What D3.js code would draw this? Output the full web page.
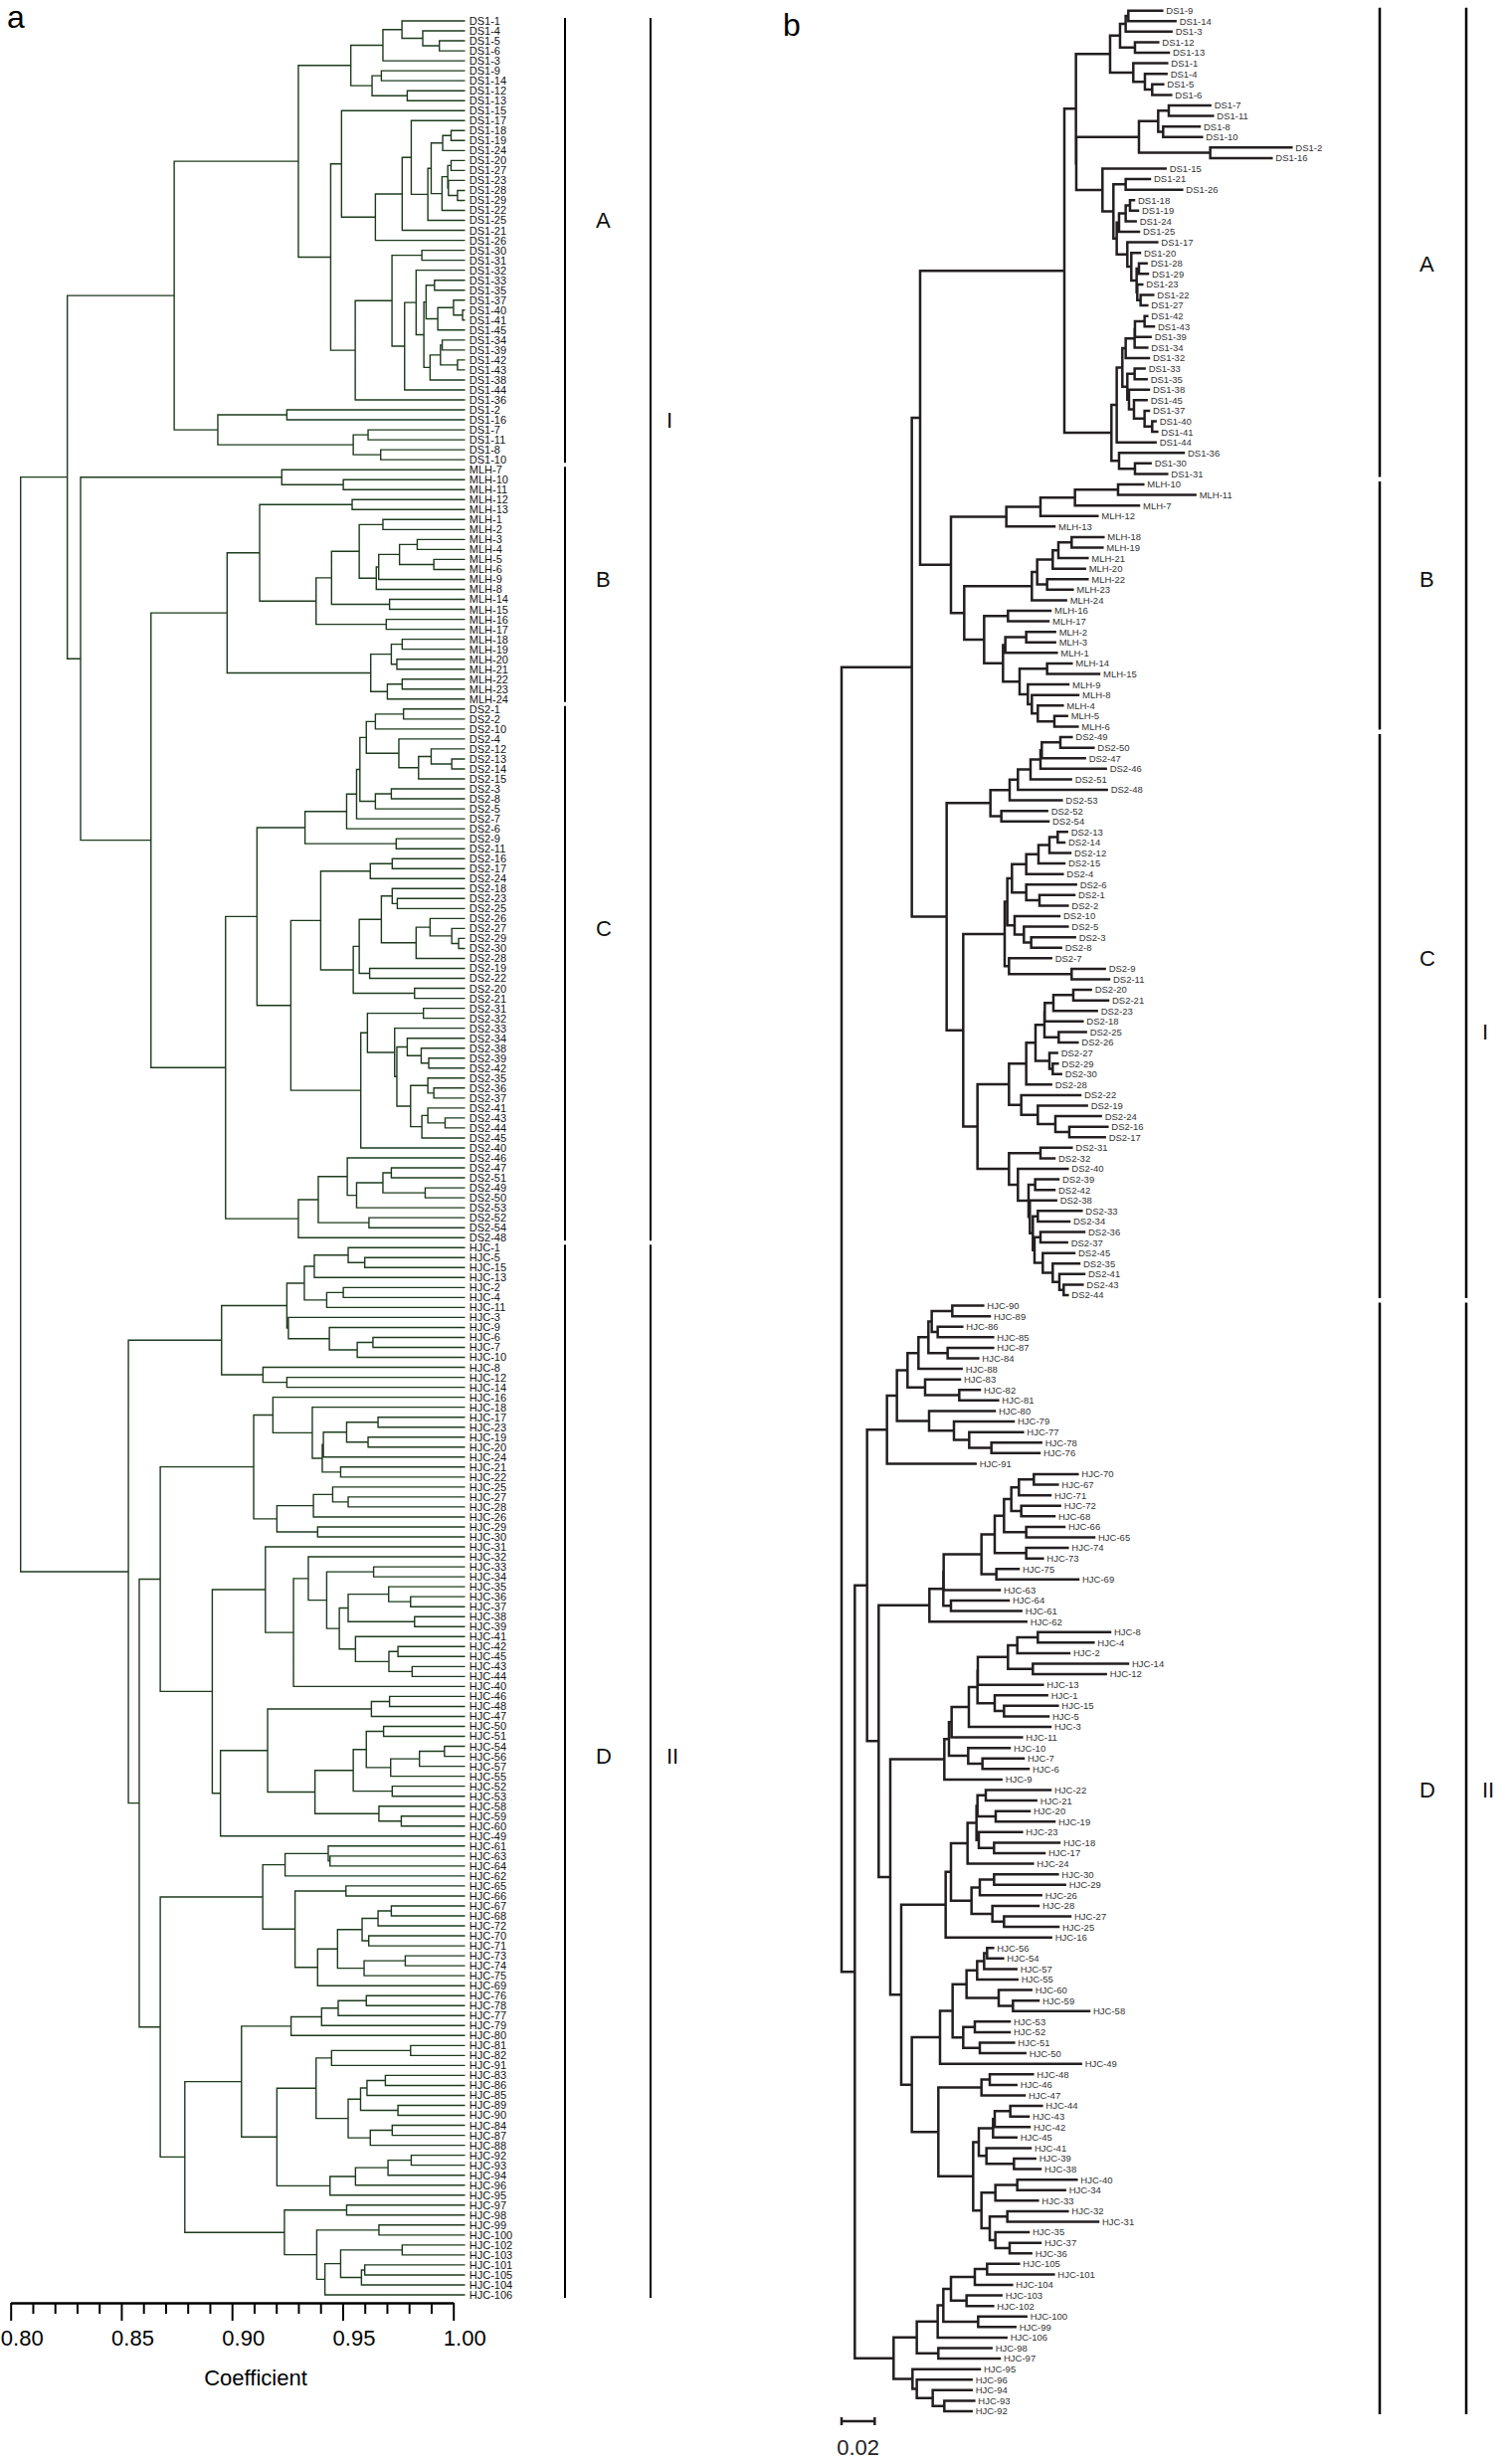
<!DOCTYPE html>
<html><head><meta charset="utf-8">
<script src="https://cdn.jsdelivr.net/npm/d3@7"></script>
<style>body{margin:0;background:#fff}svg{display:block}</style>
</head><body>
<svg id="chart" width="1520" height="2472"></svg>
<script>
// ---------------- DATA ----------------
// Panel a: UPGMA dendrogram. Value after ':' on an internal node = similarity coefficient of that join.
const leftClades = [
 ["root","(@a203,@a387):0.8045"],
 ["a203","(@a525,@a243):0.8256"],
 ["a525","(@a900,@a657):0.8739"],
 ["a900","(@a1058,@a997):0.9300"],
 ["a1058","(@a1155,@a1122):0.9537"],
 ["a1155","(@a1212,DS1-3):0.9682"],
 ["a1212","(DS1-1,@a1275):0.9768"],
 ["a1275","(DS1-4,(DS1-5,DS1-6):0.9937):0.9862"],
 ["a1122","((DS1-9,DS1-14):0.9675,(DS1-12,DS1-13):0.9792):0.9633"],
 ["a997","(@a1030,@a1090):0.9446"],
 ["a1030","(DS1-15,@a1132):0.9495"],
 ["a1132","(@a1213,DS1-26):0.9648"],
 ["a1213","(@a1240,DS1-21):0.9769"],
 ["a1240","(DS1-17,@a1290):0.9810"],
 ["a1290","(@a1300,DS1-25):0.9885"],
 ["a1300","(((DS1-18,DS1-19):0.9990,DS1-24):0.9952,@a1333):0.9900"],
 ["a1333","(((DS1-20,DS1-27):0.9990,(DS1-23,(DS1-28,DS1-29):1.0019):0.9978):0.9975,DS1-22):0.9949"],
 ["a1090","(@a1182,DS1-36):0.9557"],
 ["a1182","((DS1-30,DS1-31):0.9858,@a1220):0.9723"],
 ["a1220","((DS1-32,@a1278):0.9832,DS1-44):0.9780"],
 ["a1278","(@a1285,@a1297):0.9867"],
 ["a1285","((DS1-33,DS1-35):0.9915,((DS1-37,(DS1-40,DS1-41):1.0042):1.0001,DS1-45):0.9930):0.9877"],
 ["a1297","(((DS1-34,DS1-39):0.9950,(DS1-42,DS1-43):1.0019):0.9942,DS1-38):0.9895"],
 ["a657","((DS1-2,DS1-16):0.9248,((DS1-7,DS1-11):0.9615,(DS1-8,DS1-10):0.9672):0.9548):0.8936"],
 ["a243","(@a850,@a455):0.8316"],
 ["a850","(MLH-7,(MLH-10,MLH-11):0.9503):0.9225"],
 ["a455","(@a685,@a680):0.8634"],
 ["a685","(@a783,@a1118):0.8978"],
 ["a783","((MLH-12,MLH-13):0.9543,@a953):0.9125"],
 ["a953","(@a1000,(MLH-16,MLH-17):0.9697):0.9380"],
 ["a1000","(@a1083,(MLH-14,MLH-15):0.9712):0.9450"],
 ["a1083","((MLH-1,MLH-2):0.9682,((((MLH-3,MLH-4):0.9837,(MLH-5,MLH-6):0.9912):0.9757,MLH-9):0.9663,MLH-8):0.9652):0.9575"],
 ["a1118","(((MLH-18,MLH-19):0.9769,(MLH-20,MLH-21):0.9745):0.9720,((MLH-22,MLH-23):0.9769,MLH-24):0.9702):0.9627"],
 ["a680","(@a775,@a900b):0.8971"],
 ["a775","(@a920,@a877):0.9113"],
 ["a920","(@a1045,(DS2-9,DS2-11):0.9742):0.9330"],
 ["a1045","(((@a1105,@a1132b):0.9578,DS2-7):0.9563,DS2-6):0.9518"],
 ["a1105","(((DS2-1,DS2-2):0.9775,DS2-10):0.9648,(DS2-4,((DS2-12,(DS2-13,DS2-14):0.9993):0.9900,DS2-15):0.9843):0.9754):0.9607"],
 ["a1132b","((DS2-3,DS2-8):0.9720,DS2-5):0.9648"],
 ["a877","(@a967,@a1100):0.9266"],
 ["a967","(((DS2-16,DS2-17):0.9724,DS2-24):0.9625,@a1065):0.9401"],
 ["a1065","((@a1150,(DS2-19,DS2-22):0.9622):0.9575,(DS2-20,DS2-21):0.9825):0.9548"],
 ["a1150","((DS2-18,(DS2-23,DS2-25):0.9747):0.9724,((DS2-26,(DS2-27,(DS2-29,DS2-30):1.0024):0.9993):0.9895,DS2-28):0.9832):0.9675"],
 ["a1100","(@a1120,DS2-40):0.9582"],
 ["a1120","((DS2-31,DS2-32):0.9865,(DS2-33,@a1197):0.9735):0.9612"],
 ["a1197","((DS2-34,(DS2-38,(DS2-39,DS2-42):0.9889):0.9855):0.9792,((DS2-35,(DS2-36,DS2-37):0.9912):0.9885,((DS2-41,(DS2-43,DS2-44):0.9963):0.9885,DS2-45):0.9858):0.9807):0.9745"],
 ["a900b","(((DS2-46,(((DS2-47,DS2-51):0.9720,(DS2-49,DS2-50):0.9873):0.9682,DS2-53):0.9563):0.9521,(DS2-52,DS2-54):0.9619):0.9390,DS2-48):0.9300"],
 ["a387","(@a668,@a420):0.8532"],
 ["a668","(@a865,(HJC-8,(HJC-12,HJC-14):0.9248):0.9140):0.8953"],
 ["a865","(@a918,@a870):0.9248"],
 ["a918","(((HJC-1,(HJC-5,HJC-15):0.9600):0.9525,HJC-13):0.9372,((HJC-2,HJC-4):0.9503,HJC-11):0.9428):0.9327"],
 ["a870","(HJC-3,(HJC-9,((HJC-6,HJC-7):0.9637,HJC-10):0.9566):0.9440):0.9255"],
 ["a420","(@a483,@a483b):0.8581"],
 ["a483","(@a765,@a640):0.8676"],
 ["a765","(@a823,@a835):0.9098"],
 ["a823","(HJC-16,(HJC-18,((((HJC-17,HJC-23):0.9660,(HJC-19,HJC-20):0.9615):0.9518,HJC-24):0.9413,(HJC-21,HJC-22):0.9491):0.9408):0.9363):0.9185"],
 ["a835","(((HJC-25,(HJC-27,HJC-28):0.9525):0.9455,HJC-26):0.9368,(HJC-29,HJC-30):0.9387):0.9203"],
 ["a640","(@a800,@a665):0.8911"],
 ["a800","(HJC-31,((HJC-32,((HJC-33,HJC-34):0.9640,@a1023):0.9428):0.9345,HJC-40):0.9278):0.9151"],
 ["a1023","(((HJC-35,(HJC-36,HJC-37):0.9807):0.9708,(HJC-38,HJC-39):0.9825):0.9525,(HJC-41,((HJC-42,HJC-45):0.9750,(HJC-43,HJC-44):0.9814):0.9709):0.9558):0.9485"],
 ["a665","((((HJC-46,HJC-48):0.9712,HJC-47):0.9630,@a950):0.9161,HJC-49):0.8948"],
 ["a950","((@a1105h,(HJC-52,HJC-53):0.9724):0.9548,(HJC-58,(HJC-59,HJC-60):0.9765):0.9664):0.9375"],
 ["a1105h","((HJC-50,HJC-51):0.9685,(((HJC-54,HJC-56):0.9960,HJC-57):0.9847,HJC-55):0.9717):0.9607"],
 ["a483b","(@a792,@a557):0.8676"],
 ["a792","(((HJC-61,(HJC-63,HJC-64):0.9443):0.9435,HJC-62):0.9240,((HJC-65,HJC-66):0.9515,@a958):0.9285):0.9139"],
 ["a958","(((((HJC-67,HJC-68):0.9720,HJC-72):0.9660,(HJC-70,HJC-71):0.9618):0.9588,((HJC-73,HJC-74):0.9783,HJC-75):0.9597):0.9477,HJC-69):0.9387"],
 ["a557","(@a728,@a858):0.8787"],
 ["a728","(((((HJC-76,HJC-78):0.9607,HJC-77):0.9480,HJC-79):0.9405,HJC-80):0.9267,@a835b):0.9043"],
 ["a835b","((((HJC-81,HJC-82):0.9807,HJC-91):0.9450,@a1050):0.9380,((((HJC-92,HJC-93):0.9810,HJC-94):0.9705,HJC-96):0.9558,HJC-95):0.9443):0.9203"],
 ["a1050","((((HJC-83,HJC-86):0.9693,HJC-85):0.9610,(HJC-89,HJC-90):0.9750):0.9581,((HJC-84,HJC-87):0.9724,HJC-88):0.9625):0.9525"],
 ["a858","((HJC-97,HJC-98):0.9518,((HJC-99,HJC-100):0.9664,(((HJC-102,HJC-103):0.9769,((HJC-101,HJC-105):0.9600,HJC-104):0.9585):0.9491,HJC-106):0.9420):0.9383):0.9237"]
];
const leftLeafCoefficient = 1.005;   // where the terminal branches of panel a end
const leftMajorTicks = [0.80, 0.85, 0.90, 0.95, 1.00];
const leftMinorTicks = [0.81,0.82,0.83,0.84,0.86,0.87,0.88,0.89,0.91,0.92,0.93,0.94,0.96,0.97,0.98,0.99];
const leftAxisTitle = "Coefficient";

// Panel b: neighbour-joining tree. Value after ':' = distance of the node from the root.
const rightClades = [
 ["root","(((@bA,@bB):0.0474,@bC):0.0424,(@bD1,@bD2):0.008):0"],
 ["bA","(@b755,@b862):0.1344"],
 ["b755","(@b858,(@b945,@b835):0.1416):0.1414"],
 ["b858","((((DS1-9:0.1934,DS1-14:0.2014):0.173,DS1-3:0.199):0.1714,(DS1-12:0.191,DS1-13:0.1974):0.177):0.168,(DS1-1:0.1964,(DS1-4:0.196,(DS1-5:0.194,DS1-6:0.1988):0.1874):0.183):0.176):0.162"],
 ["b945","(((DS1-7:0.2224,DS1-11:0.224):0.1974,(DS1-8:0.216,DS1-10:0.2174):0.194):0.191,(DS1-2:0.2714,DS1-16:0.2594):0.2224):0.1794"],
 ["b835","(DS1-15:0.1954,((DS1-21:0.186,DS1-26:0.2054):0.1714,(@b885,@b910):0.166):0.164):0.1574"],
 ["b885","(((DS1-18:0.1764,DS1-19:0.1788):0.174,DS1-24:0.1774):0.1714,DS1-25:0.1794):0.1674"],
 ["b910","(DS1-17:0.1904,(DS1-20:0.18,((DS1-28:0.184,DS1-29:0.1848):0.1794,(DS1-23:0.1814,(DS1-22:0.188,DS1-27:0.1844):0.1804):0.1784):0.178):0.1748):0.1724"],
 ["b862","((@b895,DS1-44:0.1894):0.166,(DS1-36:0.2064,(DS1-30:0.1864,DS1-31:0.1964):0.177):0.1674):0.1628"],
 ["b895","(((((DS1-42:0.1844,DS1-43:0.1884):0.1828,DS1-39:0.1864):0.177,DS1-34:0.1844):0.1768,DS1-32:0.1854):0.1714,((DS1-33:0.1828,DS1-35:0.184):0.1768,(DS1-38:0.1854,(DS1-45:0.184,(DS1-37:0.1854,(DS1-40:0.1894,DS1-41:0.1904):0.1874):0.1828):0.1764):0.1734):0.1724):0.1694"],
 ["bB","(@bB1,@bB2):0.066"],
 ["bB1","((((MLH-10:0.182,MLH-11:0.2134):0.1668,MLH-7:0.1794):0.1408,MLH-12:0.1544):0.12,MLH-13:0.1284):0.0994"],
 ["bB2","((@bB3,MLH-24:0.1354):0.1148,@bB4):0.074"],
 ["bB3","((((MLH-18:0.158,MLH-19:0.1574):0.1388,MLH-21:0.1484):0.1308,MLH-20:0.1468):0.1274,(MLH-22:0.1484,MLH-23:0.1394):0.124):0.118"],
 ["bB4","((MLH-16:0.126,MLH-17:0.1248):0.1004,(((MLH-2:0.1288,MLH-3:0.1288):0.1114,MLH-1:0.1298):0.0988,((MLH-14:0.1388,MLH-15:0.1554):0.124,(MLH-9:0.1368,(MLH-8:0.1428,(MLH-4:0.1334,(MLH-5:0.136,MLH-6:0.1424):0.1284):0.1184):0.1148):0.1124):0.1074):0.0974):0.086"],
 ["bC","(@bC1,@bC2):0.0634"],
 ["bC1","(((((((DS2-49:0.1388,DS2-50:0.152):0.132,DS2-47:0.1468):0.1208,DS2-46:0.1594):0.12,DS2-51:0.1384):0.114,DS2-48:0.16):0.1064,DS2-53:0.1328):0.1014,(DS2-52:0.124,DS2-54:0.1248):0.0964):0.0898"],
 ["bC2","(@bC3,@bC4):0.0734"],
 ["bC3","((@bC3a,@bC3b):0.1,(DS2-7:0.1264,(DS2-9:0.1588,DS2-11:0.1614):0.1388):0.101):0.0984"],
 ["bC3a","(((((DS2-13:0.136,DS2-14:0.1344):0.1304,DS2-12:0.138):0.1254,DS2-15:0.1344):0.1188,DS2-4:0.1334):0.1114,(DS2-6:0.1414,(DS2-1:0.1404,DS2-2:0.1364):0.1194):0.1114):0.1028"],
 ["bC3b","(DS2-10:0.1314,(DS2-5:0.1364,(DS2-3:0.1408,DS2-8:0.1324):0.1144):0.11):0.1044"],
 ["bC4","(@bC5,@bC6):0.082"],
 ["bC5","((@bC5a,DS2-28:0.1264):0.1114,(DS2-22:0.144,(DS2-19:0.148,(DS2-24:0.1564,(DS2-16:0.1604,DS2-17:0.1588):0.1374):0.129):0.1184):0.1084):0.101"],
 ["bC5a","(((((DS2-20:0.1504,DS2-21:0.1608):0.1398,DS2-23:0.154):0.1278,DS2-18:0.1454):0.1226,(DS2-25:0.1474,DS2-26:0.1424):0.131):0.1224,(DS2-27:0.13,(DS2-29:0.1304,DS2-30:0.1324):0.1274):0.1254):0.117"],
 ["bC6","((DS2-31:0.1388,DS2-32:0.1284):0.12,(DS2-40:0.1364,@bC7):0.1064):0.101"],
 ["bC7","((DS2-39:0.1308,DS2-42:0.1284):0.1168,(DS2-38:0.1294,((DS2-33:0.1448,DS2-34:0.1374):0.1184,((DS2-36:0.1464,DS2-37:0.136):0.12,(DS2-45:0.1404,(DS2-35:0.1434,(DS2-41:0.1464,(DS2-43:0.1454,DS2-44:0.1364):0.134):0.1314):0.1274):0.1214):0.1164):0.1154):0.1136):0.1128"],
 ["bD1","(@bD1a,@bD1b):0.0154"],
 ["bD1a","((@bD1c,@bD1d):0.0334,HJC-91:0.0808):0.0274"],
 ["bD1c","(((((HJC-90:0.0854,HJC-89:0.0894):0.0668,(HJC-86:0.0728,HJC-85:0.0914):0.058):0.0544,(HJC-87:0.0914,HJC-84:0.0824):0.064):0.0524,HJC-88:0.0724):0.0464,(HJC-83:0.0714,(HJC-82:0.0834,HJC-81:0.0944):0.071):0.0504):0.0398"],
 ["bD1d","(HJC-80:0.0924,(HJC-79:0.1038,(HJC-77:0.1094,(HJC-78:0.1204,HJC-76:0.1194):0.0904):0.077):0.0678):0.0528"],
 ["bD1b","(@bD1e,@bD1f):0.0224"],
 ["bD1e","(((@bD1g,HJC-63:0.0954):0.0616,(HJC-64:0.1008,HJC-61:0.1084):0.066):0.0614,HJC-62:0.1114):0.053"],
 ["bD1g","((((((HJC-70:0.1424,HJC-67:0.1304):0.116,HJC-71:0.126):0.107,(HJC-72:0.1318,HJC-68:0.1284):0.1084):0.1024,(HJC-66:0.1344,HJC-65:0.1524):0.1114):0.098,(HJC-74:0.1364,HJC-73:0.1214):0.1114):0.0924,(HJC-75:0.1068,HJC-69:0.1428):0.0934):0.0844"],
 ["bD1f","(@bD1h,@bD1i):0.0294"],
 ["bD1h","(((@bD1j,HJC-11:0.1088):0.0664,(HJC-10:0.1014,(HJC-7:0.1098,HJC-6:0.1128):0.085):0.0764):0.0648,HJC-9:0.0964):0.062"],
 ["bD1j","((((((HJC-8:0.162,HJC-4:0.152):0.1184,HJC-2:0.1374):0.106,(HJC-14:0.1728,HJC-12:0.1594):0.1154):0.1004,HJC-13:0.1214):0.0822,(HJC-1:0.124,(HJC-15:0.1304,HJC-5:0.1248):0.098):0.0924):0.082,HJC-3:0.126):0.0768"],
 ["bD1i","(@bD1k,@bD1l):0.036"],
 ["bD1k","((((((HJC-22:0.126,HJC-21:0.1174):0.087,(HJC-20:0.1134,HJC-19:0.1284):0.093):0.082,(HJC-23:0.1088,(HJC-18:0.1314,HJC-17:0.1224):0.092):0.0828):0.0814,HJC-24:0.1154):0.076,@bD1m):0.066,HJC-16:0.1264):0.0628"],
 ["bD1m","(((HJC-30:0.1304,HJC-29:0.1348):0.092,HJC-26:0.1204):0.0834,(HJC-28:0.1188,(HJC-27:0.138,HJC-25:0.1308):0.098):0.091):0.0784"],
 ["bD1l","(@bD1n,@bD1o):0.0424"],
 ["bD1n","((((((HJC-56:0.0914,HJC-54:0.0974):0.0878,HJC-57:0.1054):0.086,HJC-55:0.106):0.0818,(HJC-60:0.1144,(HJC-59:0.1188,HJC-58:0.1494):0.1034):0.0948):0.0754,((HJC-53:0.1014,HJC-52:0.1014):0.0804,(HJC-51:0.104,HJC-50:0.1108):0.0834):0.0734):0.067,HJC-49:0.1444):0.0594"],
 ["bD1o","(((HJC-48:0.1154,HJC-46:0.1054):0.0894,HJC-47:0.1104):0.0844,(((((HJC-44:0.1208,HJC-43:0.1128):0.1018,HJC-42:0.1134):0.0924,HJC-45:0.1054):0.0914,(HJC-41:0.114,(HJC-39:0.1168,HJC-38:0.12):0.104):0.0874):0.0828,(((HJC-40:0.1418,HJC-34:0.1348):0.106,HJC-33:0.1184):0.0928,((HJC-32:0.1364,HJC-31:0.1548):0.1,(HJC-35:0.1128,(HJC-37:0.12,HJC-36:0.1144):0.1014):0.0928):0.0894):0.0844):0.0794):0.0584"],
 ["bD2","(((((((HJC-105:0.107,HJC-101:0.128):0.0878,HJC-104:0.1028):0.0804,(HJC-103:0.0964,HJC-102:0.0914):0.0754):0.066,(HJC-100:0.1114,HJC-99:0.1048):0.0824):0.0614,HJC-106:0.0994):0.058,(HJC-98:0.0904,HJC-97:0.0954):0.0584):0.0454,(HJC-95:0.0834,(HJC-96:0.0784,(HJC-94:0.0784,(HJC-93:0.08,HJC-92:0.0784):0.062):0.055):0.0454):0.0428):0.0314"]
];
const rightScaleBar = 0.02;

// cluster brackets: [label, first leaf, last leaf, leaf row where the label sits]
const leftClusters  = [["A","DS1-1","DS1-10","DS1-25"],["B","MLH-7","MLH-24","MLH-9"],["C","DS2-1","DS2-48","DS2-27"],["D","HJC-1","HJC-106","HJC-56"]];
const leftGroups    = [["I","DS1-1","DS2-48","DS1-16"],["II","HJC-1","HJC-106","HJC-56"]];
const rightClusters = [["A","DS1-9","DS1-31","DS1-28"],["B","MLH-10","MLH-6","MLH-22"],["C","DS2-49","DS2-44","DS2-7"],["D","HJC-90","HJC-92","HJC-22"]];
const rightGroups   = [["I","DS1-9","DS2-44","DS2-25"],["II","HJC-90","HJC-92","HJC-22"]];

// ---------------- HELPERS ----------------
function expand(defs, name) {
  const map = new Map(defs);
  const rec = s => s.replace(/@(\w+)/g, (_, k) => { if (!map.has(k)) throw new Error("missing clade " + k); return rec(map.get(k)); });
  return rec(map.get(name));
}
function parseNewick(s) {
  let i = 0;
  function node() {
    const n = {};
    if (s[i] === "(") {
      i++; n.children = [node()];
      while (s[i] === ",") { i++; n.children.push(node()); }
      if (s[i] !== ")") throw new Error("newick error at " + i + " " + s.slice(i - 20, i + 20));
      i++;
    }
    let name = ""; while (i < s.length && !",():".includes(s[i])) name += s[i++];
    n.name = name.trim();
    if (s[i] === ":") { i++; let v = ""; while (i < s.length && !",()".includes(s[i])) v += s[i++]; n.value = +v; }
    return n;
  }
  const r = node();
  if (i !== s.length) throw new Error("trailing text at " + i);
  return r;
}
function buildTree(defs, yRange, expected) {
  const root = d3.hierarchy(parseNewick(expand(defs, "root")));
  const leaves = root.leaves();
  if (leaves.length !== expected) throw new Error("leaf count " + leaves.length);
  const y = d3.scalePoint().domain(leaves.map(d => d.data.name)).range(yRange);
  root.eachAfter(n => {
    n.py = n.children ? (n.children[0].py + n.children[n.children.length - 1].py) / 2 : y(n.data.name);
  });
  return { root, y };
}

const svg = d3.select("#chart");
const FONT = "'Liberation Sans', Arial, Helvetica, sans-serif";

// ---------------- PANEL a ----------------
const xL = d3.scaleLinear().domain([0.80, 1.00]).range([10.7, 455.7]);
const treeL = buildTree(leftClades, [21, 2307], 229);
const gL = svg.append("g");
const segL = [];
treeL.root.each(n => {
  if (!n.children) return;
  const x0 = xL(n.data.value);
  segL.push(`M${x0},${n.children[0].py}V${n.children[n.children.length - 1].py}`);
  n.children.forEach(c => {
    const x1 = xL(c.children ? c.data.value : leftLeafCoefficient);
    segL.push(`M${x0},${c.py}H${x1}`);
  });
});
gL.append("path").attr("d", segL.join("")).attr("fill", "none")
  .attr("stroke", "#1d3a1d").attr("stroke-width", 1.4).attr("stroke-linecap", "square");
gL.selectAll("text.leaf").data(treeL.root.leaves()).join("text")
  .attr("x", xL(leftLeafCoefficient) + 5).attr("y", d => d.py).attr("dy", "0.36em")
  .attr("font-family", FONT).attr("font-size", 11).attr("fill", "#111").text(d => d.data.name);

// axis
const axisY = 2315;
const gAx = svg.append("g").attr("transform", `translate(0,${axisY})`);
gAx.call(d3.axisBottom(xL).tickValues(leftMinorTicks).tickSize(11).tickSizeOuter(0).tickFormat(""));
const gAx2 = svg.append("g").attr("transform", `translate(0,${axisY})`);
gAx2.call(d3.axisBottom(xL).tickValues(leftMajorTicks).tickSize(18).tickSizeOuter(0).tickPadding(9).tickFormat(d3.format(".2f")));
[gAx, gAx2].forEach(g => {
  g.selectAll("path,line").attr("stroke", "#000").attr("stroke-width", 2);
  g.selectAll("text").attr("font-family", FONT).attr("font-size", 22).attr("fill", "#000").attr("dx", 11);
});
svg.append("text").attr("x", 257).attr("y", 2398).attr("text-anchor", "middle")
  .attr("font-family", FONT).attr("font-size", 22).text(leftAxisTitle);

// ---------------- PANEL b ----------------
const xR = d3.scaleLinear().domain([0, rightScaleBar]).range([846, 846 + 33.33]);
const treeR = buildTree(rightClades, [10.7, 2424], 229);
const gR = svg.append("g");
const segR = [];
treeR.root.each(n => {
  if (!n.children) return;
  const x0 = xR(n.data.value);
  segR.push(`M${x0},${n.children[0].py}V${n.children[n.children.length - 1].py}`);
  n.children.forEach(c => segR.push(`M${x0},${c.py}H${xR(c.data.value)}`));
});
gR.append("path").attr("d", segR.join("")).attr("fill", "none")
  .attr("stroke", "#231f20").attr("stroke-width", 2.5).attr("stroke-linecap", "square");
gR.selectAll("text.leaf").data(treeR.root.leaves()).join("text")
  .attr("x", d => xR(d.data.value) + 4).attr("y", d => d.py).attr("dy", "0.36em")
  .attr("font-family", FONT).attr("font-size", 9.5).attr("fill", "#333").text(d => d.data.name);

// scale bar
const sbY = 2434;
svg.append("path").attr("d", `M${xR(0)},${sbY}H${xR(rightScaleBar)}M${xR(0)},${sbY - 4}V${sbY + 4}M${xR(rightScaleBar)},${sbY - 4}V${sbY + 4}`)
  .attr("stroke", "#231f20").attr("stroke-width", 2.5).attr("fill", "none");
svg.append("text").attr("x", (xR(0) + xR(rightScaleBar)) / 2).attr("y", 2468).attr("text-anchor", "middle")
  .attr("font-family", FONT).attr("font-size", 22).attr("fill", "#222").text(String(rightScaleBar));

// ---------------- BRACKETS ----------------
function brackets(list, yScale, x, labelDx, sw) {
  list.forEach(([lab, a, b, row]) => {
    svg.append("line").attr("x1", x).attr("x2", x).attr("y1", yScale(a) - 3).attr("y2", yScale(b) + 3)
      .attr("stroke", "#000").attr("stroke-width", sw);
    svg.append("text").attr("x", x + labelDx).attr("y", yScale(row)).attr("dy", "0.36em")
      .attr("font-family", FONT).attr("font-size", 22).attr("fill", "#111").text(lab);
  });
}
brackets(leftClusters, treeL.y, 568, 31, 2);
brackets(leftGroups, treeL.y, 654, 16, 2);
brackets(rightClusters, treeR.y, 1387, 40, 2.5);
brackets(rightGroups, treeR.y, 1474, 16, 2.5);

// panel letters
svg.append("text").attr("x", 7).attr("y", 28).attr("font-family", FONT).attr("font-size", 32).text("a");
svg.append("text").attr("x", 787).attr("y", 36).attr("font-family", FONT).attr("font-size", 32).text("b");
</script>
</body></html>
